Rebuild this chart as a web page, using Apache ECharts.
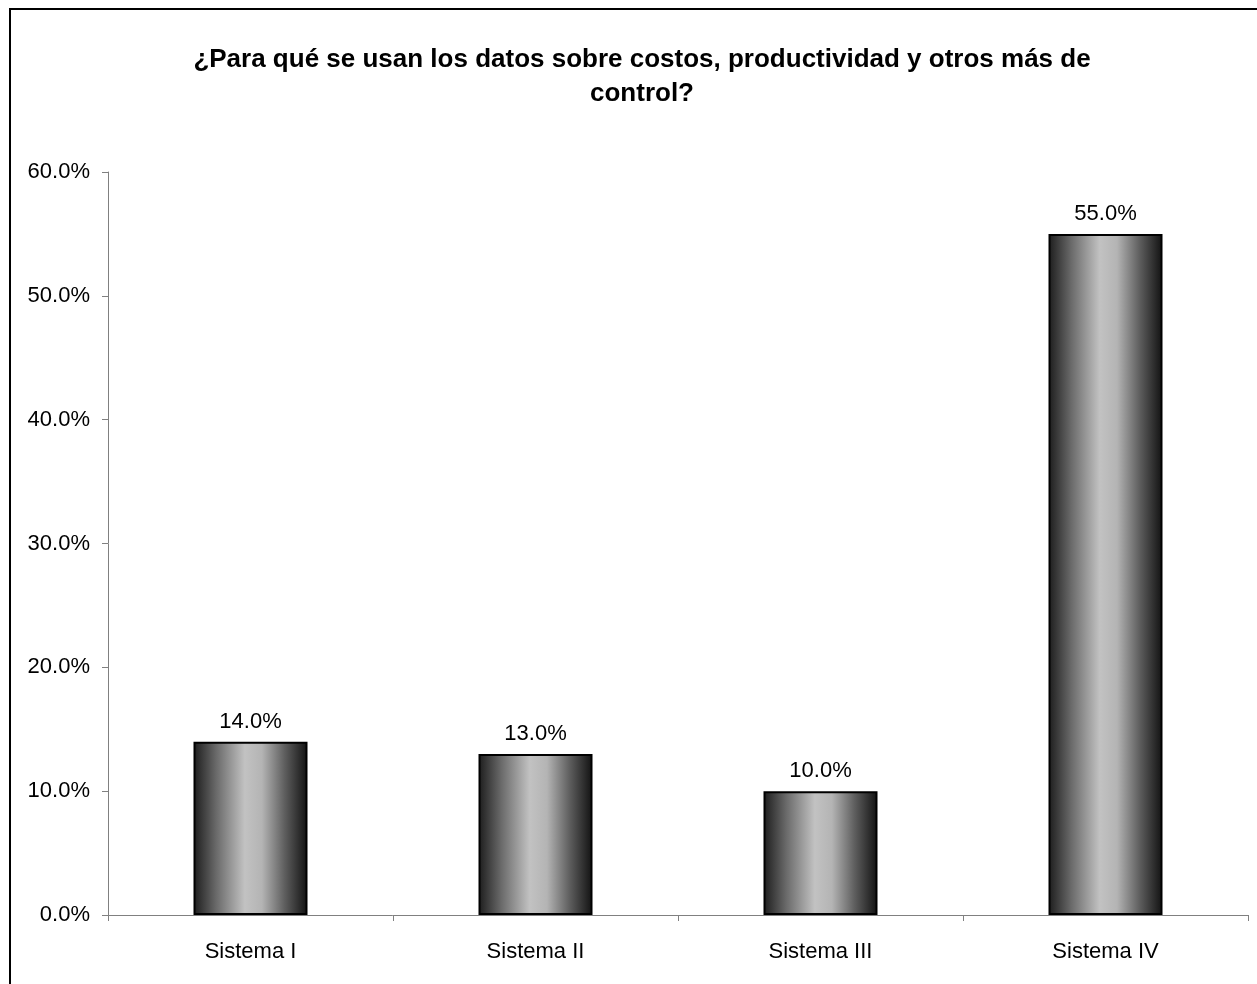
<!DOCTYPE html>
<html>
<head>
<meta charset="utf-8">
<script src="https://cdn.jsdelivr.net/npm/echarts@6/dist/echarts.min.js"></script>
<style>
  html, body { margin: 0; padding: 0; background: #fff; overflow: hidden; }
  #frame {
    position: absolute; left: 9px; top: 8px; width: 1300px; height: 1100px;
    border: 2px solid #000; box-sizing: border-box;
  }
  #chart { position: absolute; left: 0; top: 0; width: 1257px; height: 984px; }
</style>
</head>
<body>
<div id="frame"></div>
<div id="chart"></div>
<script>
const titleText = "¿Para qué se usan los datos sobre costos, productividad y otros más de\ncontrol?";
const categories = ["Sistema I", "Sistema II", "Sistema III", "Sistema IV"];
const values = [14.0, 13.0, 10.0, 55.0];

const chart = echarts.init(document.getElementById("chart"));

// degradado horizontal de las barras
const barColor = new echarts.graphic.LinearGradient(0, 0, 1, 0, [
  { offset: 0, color: "#1c1c1c" },
  { offset: 0.2, color: "#6a6a6a" },
  { offset: 0.45, color: "#c2c2c2" },
  { offset: 0.6, color: "#b4b4b4" },
  { offset: 0.8, color: "#5e5e5e" },
  { offset: 1, color: "#111111" },
]);

const option = {
  backgroundColor: "transparent",
  textStyle: { fontFamily: "Liberation Sans, Arial, sans-serif" },
  title: {
    text: titleText,
    left: 637,
    textAlign: "center",
    top: 38,
    textStyle: {
      fontFamily: "Liberation Sans, Arial, sans-serif",
      fontSize: 26,
      fontWeight: "bold",
      color: "#000",
      lineHeight: 34,
    },
  },
  grid: { left: 108, right: 9, top: 172, bottom: 69, containLabel: false },
  xAxis: {
    type: "category",
    data: categories,
    axisLine: { lineStyle: { color: "#808080", width: 1 } },
    axisTick: { show: true, length: 6, alignWithLabel: false, lineStyle: { color: "#808080" } },
    axisLabel: { fontSize: 22, color: "#000", margin: 26 },
  },
  yAxis: {
    type: "value",
    min: 0,
    max: 60,
    interval: 10,
    axisLine: { show: true, lineStyle: { color: "#808080", width: 1 } },
    axisTick: { show: true, length: 6, lineStyle: { color: "#808080" } },
    splitLine: { show: false },
    axisLabel: {
      fontSize: 22,
      color: "#000",
      margin: 18,
      formatter: (v) => v.toFixed(1) + "%",
    },
  },
  series: [
    {
      type: "bar",
      data: values,
      barWidth: "40%",
      itemStyle: { color: barColor, borderColor: "#000", borderWidth: 2 },
      label: {
        show: true,
        position: "top",
        distance: 9,
        fontSize: 22,
        color: "#000",
        formatter: (p) => p.value.toFixed(1) + "%",
      },
    },
  ],
};

chart.setOption(option);
</script>
</body>
</html>
